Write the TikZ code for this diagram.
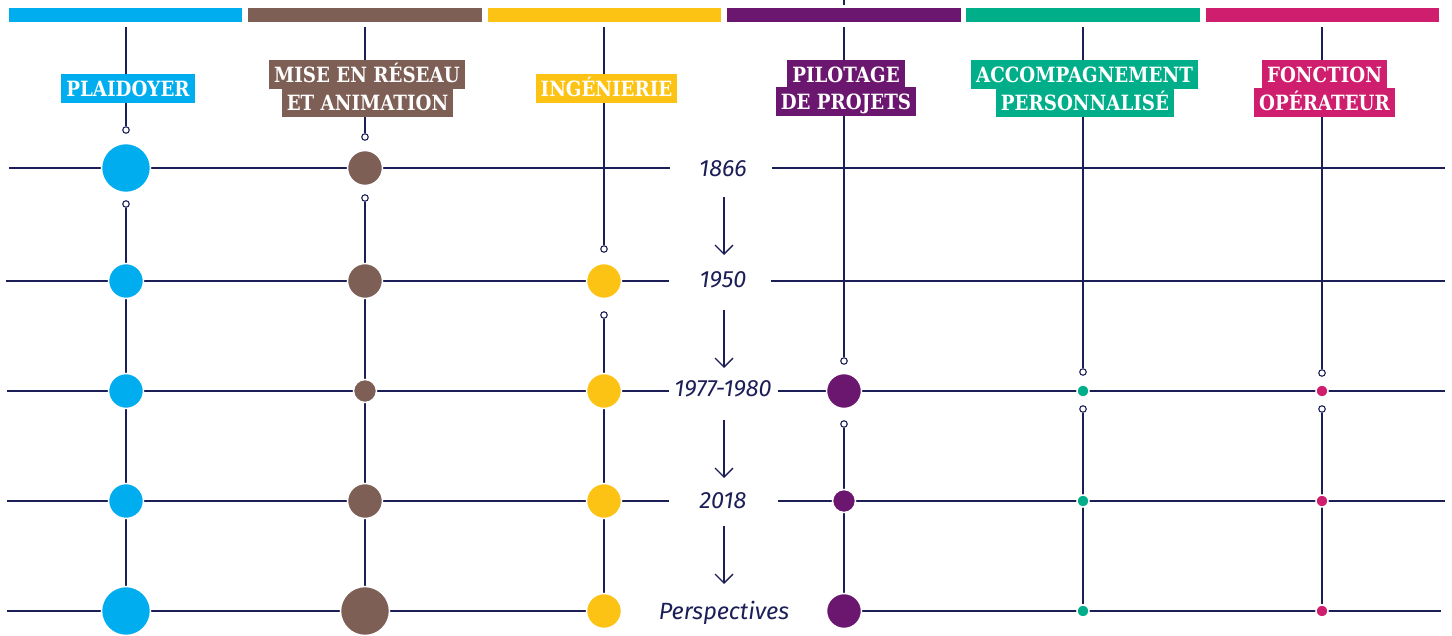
\documentclass[tikz,border=0pt]{standalone}
\usepackage{fontspec}
\setmainfont{Fira Sans}
\newfontfamily\labfont{DejaVu Serif}[FakeStretch=0.87]
\newfontfamily\yearfont{Fira Sans}
\usetikzlibrary{arrows.meta}
\definecolor{navy}{HTML}{1C1F57}
\definecolor{cblue}{HTML}{00AEEF}
\definecolor{cbrown}{HTML}{7D5F55}
\definecolor{cyellow}{HTML}{FDC314}
\definecolor{cpurple}{HTML}{6B1770}
\definecolor{cgreen}{HTML}{00AF8A}
\definecolor{cpink}{HTML}{CE1E6D}
\pgfdeclarelayer{bg}
\pgfsetlayers{bg,main}
\begin{document}
\begin{tikzpicture}[x=1pt,y=-1pt,
  gridline/.style={draw=navy, line width=1.3pt},
  dot/.style={circle, fill=#1, draw=white, line width=1.5pt, inner sep=0pt},
  ring/.style={circle, fill=white, draw=navy, line width=1.1pt, inner sep=0pt, minimum size=6.5pt},
  lab/.style={fill=#1, text=white, font=\labfont\bfseries\fontsize{21}{21}\selectfont, inner xsep=5pt, inner ysep=0pt, minimum height=29pt, text height=15.5pt, text depth=0pt},
  year/.style={text=navy, anchor=base, font=\yearfont\itshape\fontsize{23.5}{23.5}\selectfont, inner sep=0pt},
  arr/.style={draw=navy, line width=1.3pt, -{Straight Barb[length=9pt,width=18pt,line width=1.3pt]}}
]
\useasboundingbox (0,0) rectangle (1452,636);
% top bars
\fill[cblue]   (9,8)    rectangle (242,22);
\fill[cbrown]  (248,8)  rectangle (482,22);
\fill[cyellow] (488,8)  rectangle (721,22);
\fill[cpurple] (727,8)  rectangle (961,22);
\fill[cgreen]  (966,8)  rectangle (1200,22);
\fill[cpink]   (1206,8) rectangle (1439,22);
% labels
\node[lab=cblue]   (labA)  at (128,88.5)   {PLAIDOYER};
\node[lab=cbrown]  (labB1) at (367,75)     {MISE EN RÉSEAU};
\node[lab=cbrown]  (labB2) at (367.5,102.5){ET ANIMATION};
\node[lab=cyellow] (labC)  at (606.5,88.5) {INGÉNIERIE};
\node[lab=cpurple] (labD1) at (846,74.5)   {PILOTAGE};
\node[lab=cpurple] (labD2) at (846,102)    {DE PROJETS};
\node[lab=cgreen]  (labE1) at (1084.5,75)  {ACCOMPAGNEMENT};
\node[lab=cgreen]  (labE2) at (1085,102.5) {PERSONNALISÉ};
\node[lab=cpink]   (labF1) at (1324.5,74.5){FONCTION};
\node[lab=cpink]   (labF2) at (1324.5,102.5){OPÉRATEUR};
% years
\node[year] (y1) at (723,177) {1866};
\node[year] (y2) at (723,288) {1950};
\node[year] (y3) at (723,397) {1977-1980};
\node[year] (y4) at (723,508) {2018};
\node[year] (y5) at (724,619) {Perspectives};
% circles
\node[dot=cblue, minimum size=49pt] (cA1) at (126,168) {};
\node[dot=cblue, minimum size=35pt] (cA2) at (126,281) {};
\node[dot=cblue, minimum size=35pt] (cA3) at (126,391) {};
\node[dot=cblue, minimum size=35pt] (cA4) at (126,501) {};
\node[dot=cblue, minimum size=49pt] (cA5) at (126,611) {};
\node[dot=cbrown, minimum size=35pt] (cB1) at (365,168) {};
\node[dot=cbrown, minimum size=35pt] (cB2) at (365,281) {};
\node[dot=cbrown, minimum size=23pt] (cB3) at (365,391) {};
\node[dot=cbrown, minimum size=35pt] (cB4) at (365,501) {};
\node[dot=cbrown, minimum size=49pt] (cB5) at (365,611) {};
\node[dot=cyellow, minimum size=35pt] (cC2) at (604,281) {};
\node[dot=cyellow, minimum size=35pt] (cC3) at (604,391) {};
\node[dot=cyellow, minimum size=35pt] (cC4) at (604,501) {};
\node[dot=cyellow, minimum size=35pt] (cC5) at (604,611) {};
\node[dot=cpurple, minimum size=35pt] (cD3) at (844,391) {};
\node[dot=cpurple, minimum size=23pt] (cD4) at (844,501) {};
\node[dot=cpurple, minimum size=35pt] (cD5) at (844,611) {};
\node[dot=cgreen, minimum size=12pt] (cE3) at (1083,391) {};
\node[dot=cgreen, minimum size=12pt] (cE4) at (1083,501) {};
\node[dot=cgreen, minimum size=12pt] (cE5) at (1083,611) {};
\node[dot=cpink, minimum size=12pt] (cF3) at (1322,391) {};
\node[dot=cpink, minimum size=12pt] (cF4) at (1322,501) {};
\node[dot=cpink, minimum size=12pt] (cF5) at (1322,611) {};
% rings
\node[ring] (oA1) at (126,130) {};
\node[ring] (oA2) at (126,204) {};
\node[ring] (oB1) at (365,137) {};
\node[ring] (oB2) at (365,198) {};
\node[ring] (oC1) at (604,249) {};
\node[ring] (oC2) at (604,315) {};
\node[ring] (oD1) at (844,361) {};
\node[ring] (oD2) at (844,424) {};
\node[ring] (oE1) at (1083,372) {};
\node[ring] (oE2) at (1083,409) {};
\node[ring] (oF1) at (1322,373) {};
\node[ring] (oF2) at (1322,409) {};
% coordinates
\coordinate (tA) at (126,27);
\coordinate (tB) at (365,27);
\coordinate (tC) at (604,27);
\coordinate (tD) at (844,27);
\coordinate (tE) at (1083,27);
\coordinate (tF) at (1322,27);
\coordinate (tick0) at (844,0);
\coordinate (tick1) at (844,5);
\coordinate (L1) at (9,168);   \coordinate (g1l) at (670,168); \coordinate (g1r) at (772,168); \coordinate (R1) at (1445,168);
\coordinate (L2) at (6,281);   \coordinate (g2l) at (669,281); \coordinate (g2r) at (771,281); \coordinate (R2) at (1445,281);
\coordinate (L3) at (7,391);   \coordinate (g3l) at (669,391); \coordinate (g3r) at (778,391); \coordinate (R3) at (1445,391);
\coordinate (L4) at (7,501);   \coordinate (g4l) at (669,501); \coordinate (g4r) at (778,501); \coordinate (R4) at (1445,501);
\coordinate (L5) at (7,611);   \coordinate (R5) at (1441,611);
\coordinate (a1s) at (724,197); \coordinate (a1e) at (724,255);
\coordinate (a2s) at (724,310); \coordinate (a2e) at (724,368);
\coordinate (a3s) at (724,420); \coordinate (a3e) at (724,478);
\coordinate (a4s) at (724,526); \coordinate (a4e) at (724,584);
\begin{pgfonlayer}{bg}
  % vertical lines
  \draw[gridline] (tA) -- (oA1); \draw[gridline] (oA2) -- (cA5);
  \draw[gridline] (tB) -- (oB1); \draw[gridline] (oB2) -- (cB5);
  \draw[gridline] (tC) -- (oC1); \draw[gridline] (oC2) -- (cC5);
  \draw[gridline] (tD) -- (oD1); \draw[gridline] (oD2) -- (cD5);
  \draw[gridline] (tE) -- (oE1); \draw[gridline] (oE2) -- (cE5);
  \draw[gridline] (tF) -- (oF1); \draw[gridline] (oF2) -- (cF5);
  \draw[gridline] (tick0) -- (tick1);
  % horizontal lines
  \draw[gridline] (L1) -- (g1l); \draw[gridline] (g1r) -- (R1);
  \draw[gridline] (L2) -- (g2l); \draw[gridline] (g2r) -- (R2);
  \draw[gridline] (L3) -- (g3l); \draw[gridline] (g3r) -- (R3);
  \draw[gridline] (L4) -- (g4l); \draw[gridline] (g4r) -- (R4);
  \draw[gridline] (L5) -- (cC5.center); \draw[gridline] (cD5.center) -- (R5);
\end{pgfonlayer}
% arrows
\draw[arr] (a1s) -- (a1e);
\draw[arr] (a2s) -- (a2e);
\draw[arr] (a3s) -- (a3e);
\draw[arr] (a4s) -- (a4e);
\end{tikzpicture}
\end{document}
